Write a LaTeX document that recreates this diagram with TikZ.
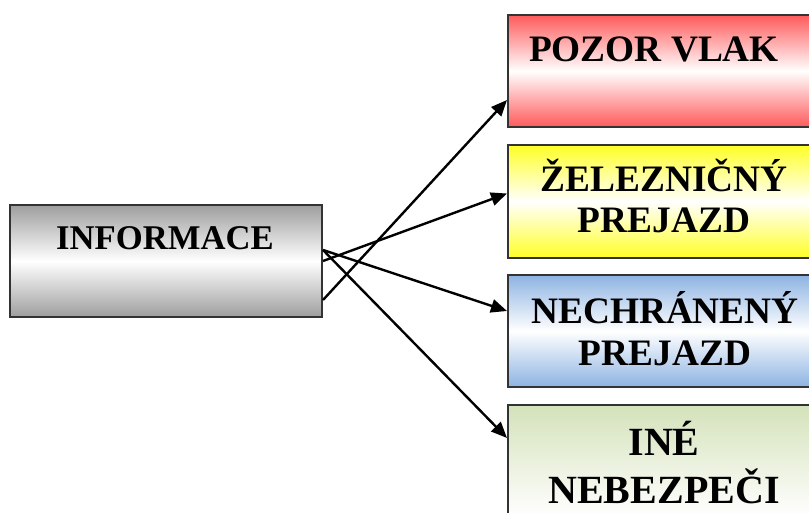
\documentclass[tikz,border=0pt]{standalone}
\usepackage{fontspec}
\setmainfont{Liberation Serif}
\usepackage{tikz}
\usetikzlibrary{arrows.meta, calc}
\definecolor{vlakred}{RGB}{255,90,90}
\definecolor{prejyel}{RGB}{255,255,40}
\definecolor{nechblue}{RGB}{141,179,226}
\definecolor{inegreen}{RGB}{212,226,186}
\definecolor{infogrey}{RGB}{158,158,158}
\tikzstyle{box} = [draw=black!80, line width=1.5pt, minimum width=228pt, minimum height=84pt, inner sep=0pt, font=\fontsize{28}{31}\selectfont\bfseries, align=center]
\tikzstyle{lbl} = [font=\fontsize{28}{31}\selectfont\bfseries, inner sep=0pt, anchor=base]
\tikzstyle{link} = [line width=1.8pt, -{Triangle[length=12pt,width=10pt]}]

\begin{document}
\begin{tikzpicture}[x=0.75pt, y=-0.75pt]
        \useasboundingbox (0,0) rectangle (809,513);
        \clip (0,0) rectangle (809,513);

        \node[box, minimum width=234pt, top color=infogrey, bottom color=infogrey, middle color=white] (info) at (166,261) {};
        \node[box, top color=vlakred, bottom color=vlakred, middle color=white] (vlak) at (660,71) {};
        \node[box, top color=prejyel, bottom color=prejyel, middle color=white] (prejazd) at (660,201.5) {};
        \node[box, top color=nechblue, bottom color=nechblue, middle color=white] (nechr) at (660,331) {};
        \node[box, top color=inegreen, bottom color=white] (ine) at (660,461) {};

        % Texts
        \node[lbl, font=\fontsize{26}{31}\selectfont\bfseries] (infotext) at (165,249) {INFORMACE};
        \node[lbl] (vlaktext) at (654,62) {POZOR VLAK};
        \node[lbl, align=center] (prejtext) at (664,233) {\v{Z}ELEZNI\v{C}N\'Y\\PREJAZD};
        \node[lbl, align=center] (nechtext) at (665,365) {NECHR\'ANEN\'Y\\PREJAZD};
        \node[lbl, align=center, font=\fontsize{30}{31}\selectfont\bfseries] (inetext) at (664,503) {IN\'E\\[5pt]NEBEZPE\v{C}I};

        % Edges
        \draw[link] ($(info.east)+(0,39)$) -- ($(vlak.west)+(0,29)$);
        \draw[link] (info.east) -- ($(prejazd.west)+(0,-8)$);
        \draw[link] ($(info.east)+(0,-11)$) -- ($(nechr.west)+(0,-20)$);
        \draw[link] ($(info.east)+(0,-11)$) -- ($(ine.west)+(0,-23)$);
      \end{tikzpicture}
\end{document}
